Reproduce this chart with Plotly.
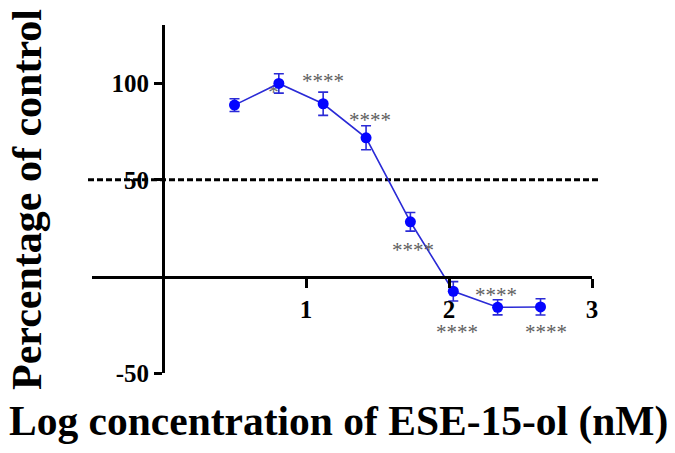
import plotly.graph_objects as go

# Dose-response data: log concentration (nM) vs percentage of control (mean ± error)
log_conc = [0.50, 0.81, 1.12, 1.42, 1.73, 2.03, 2.34, 2.64]
pct_control = [88.6, 99.8, 89.3, 71.7, 28.3, -7.6, -15.9, -15.7]
pct_error = [3.3, 5.0, 6.0, 6.2, 4.8, 5.0, 3.9, 4.2]

# Significance marks: point index, text, pixel offset from the point
sig_index = [2, 3, 4, 5, 6, 7]
sig_text = ["****"] * 6
sig_dx = [0, 4, 3, 4, -2, 5]
sig_dy = [23, 18, -28, -41, 12, -25]

x_ticks = [1, 2, 3]
y_ticks = [-50, 50, 100]
x_range = [-0.5, 3.0]
y_range = [-50, 130]
half_line = 50

W, H = 675, 453
SERIF = "Liberation Serif, Times New Roman, serif"

# pixel geometry of the plotting frame
x_left_px, x_right_px = 91.5, 592.0
y_top_px, y_bottom_px = 25.0, 373.3
x_zero_px = x_left_px + (0 - x_range[0]) / (x_range[1] - x_range[0]) * (x_right_px - x_left_px)
y_zero_px = y_top_px + (y_range[1] - 0) / (y_range[1] - y_range[0]) * (y_bottom_px - y_top_px)

fig = go.Figure()

# faint mark partly hidden behind the second point
fig.add_trace(go.Scatter(
    x=[log_conc[1]], y=[pct_control[1]], mode="text", text=["*"],
    textposition="bottom left",
    textfont=dict(family=SERIF, size=21, color="#666666"),
    showlegend=False, hoverinfo="skip", cliponaxis=False,
))

fig.add_trace(go.Scatter(
    x=log_conc, y=pct_control, mode="lines+markers",
    line=dict(color="#2b2bd6", width=1.6),
    marker=dict(color="#0505ff", size=11),
    error_y=dict(type="data", array=pct_error, visible=True,
                 color="#2b2bd6", thickness=1.6, width=5),
    showlegend=False, cliponaxis=False,
))

annotations = []
for i, t, dx, dy in zip(sig_index, sig_text, sig_dx, sig_dy):
    annotations.append(dict(
        x=log_conc[i], y=pct_control[i], xref="x", yref="y",
        text=t, showarrow=False, xshift=dx, yshift=dy,
        font=dict(family=SERIF, size=21, color="#5e5e5e"),
    ))

annotations.append(dict(
    x=27 / W, y=1 - 200 / H, xref="paper", yref="paper",
    text="<b>Percentage of control</b>", textangle=-90, showarrow=False,
    font=dict(family=SERIF, size=42, color="black"),
    xanchor="center", yanchor="middle",
))
annotations.append(dict(
    x=338 / W, y=1 - 421 / H, xref="paper", yref="paper",
    text="<b>Log concentration of ESE-15-ol (nM)</b>", showarrow=False,
    font=dict(family=SERIF, size=41.5, color="black"),
    xanchor="center", yanchor="middle",
))

shapes = [dict(
    type="line", xref="paper", yref="y",
    x0=88 / W, x1=601 / W, y0=half_line, y1=half_line,
    line=dict(color="black", width=3, dash="6px,3px"),
    layer="below",
)]

fig.update_layout(
    width=W, height=H,
    margin=dict(l=0, r=0, t=0, b=0, pad=0),
    paper_bgcolor="white", plot_bgcolor="white",
    showlegend=False,
    annotations=annotations,
    shapes=shapes,
    xaxis=dict(
        range=x_range, domain=[x_left_px / W, x_right_px / W],
        anchor="free", position=1 - y_zero_px / H, automargin=False,
        showline=True, linecolor="black", linewidth=3,
        ticks="outside", ticklen=9, tickwidth=3, tickcolor="black",
        tickvals=x_ticks, ticktext=[f"<b>{v}</b>" for v in x_ticks],
        tickfont=dict(family=SERIF, size=25, color="black"),
        showgrid=False, zeroline=False,
    ),
    yaxis=dict(
        range=y_range, domain=[1 - y_bottom_px / H, 1 - y_top_px / H],
        anchor="free", position=x_zero_px / W, automargin=False,
        showline=True, linecolor="black", linewidth=3,
        ticks="outside", ticklen=8, tickwidth=3, tickcolor="black",
        tickvals=y_ticks, ticktext=[f"<b>{v}</b>" for v in y_ticks],
        tickfont=dict(family=SERIF, size=25, color="black"),
        showgrid=False, zeroline=False,
    ),
)

fig.write_html("out.html")
